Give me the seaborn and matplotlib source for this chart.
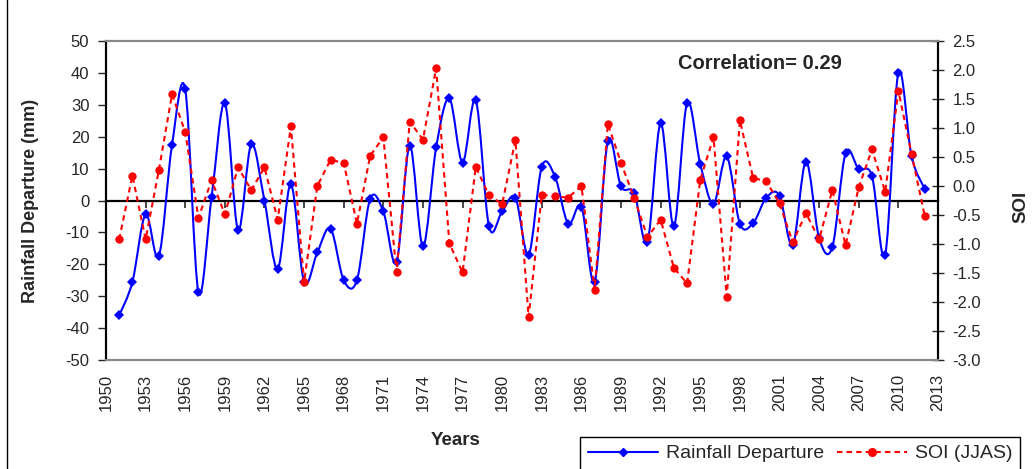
import numpy as np
import matplotlib
matplotlib.use('Agg')
import matplotlib.pyplot as plt
import seaborn as sns
from matplotlib.path import Path
from matplotlib.patches import PathPatch
from matplotlib.lines import Line2D

# data (1951-2012)
years = list(range(1951, 2013))
rainfall = [-36, -25.5, -4.3, -17.5, 17.5, 34.8, -28.8, 1.2, 30.5, -9.2,
            17.6, -0.1, -21.5, 5.1, -25.5, -16.3, -8.8, -25, -25, 0.5,
            -3.4, -19.3, 17.2, -14.4, 16.7, 32, 11.9, 31.5, -8.1, -3.4,
            0.9, -17, 10.6, 7.5, -7.3, -1.9, -25.5, 18.6, 4.4, 2.3,
            -13, 24.2, -8.1, 30.6, 11.4, -1.0, 13.8, -7.3, -7.1, 0.9,
            1.5, -14.1, 12.2, -11.8, -14.6, 14.8, 9.8, 7.7, -17, 40.1, 13.8, 3.6]
soi = [-0.92, 0.18, -0.92, 0.27, 1.58, 0.93, -0.55, 0.10, -0.49, 0.32,
       -0.07, 0.32, -0.58, 1.03, -1.66, 0.0, 0.45, 0.40, -0.65, 0.52,
       0.84, -1.49, 1.11, 0.80, 2.03, -0.99, -1.49, 0.33, -0.16, -0.31,
       0.79, -2.26, -0.15, -0.18, -0.20, 0.0, -1.79, 1.07, 0.40, -0.21,
       -0.88, -0.58, -1.41, -1.68, 0.11, 0.84, -1.91, 1.13, 0.14, 0.08,
       -0.30, -0.97, -0.47, -0.92, -0.07, -1.02, -0.02, 0.63, -0.10, 1.64, 0.55, -0.52]
xticks = list(range(1950, 2014, 3))
left_ticks = list(range(-50, 51, 10))
right_ticks = [-3.0, -2.5, -2.0, -1.5, -1.0, -0.5, 0.0, 0.5, 1.0, 1.5, 2.0, 2.5]
correlation = 0.29


def smooth_path(xs, ys):
    # Excel-like smoothed line: Catmull-Rom as cubic Bezier segments
    pts = np.column_stack([xs, ys]).astype(float)
    ext = np.vstack([pts[0], pts, pts[-1]])
    verts = [pts[0]]
    codes = [Path.MOVETO]
    for i in range(len(pts) - 1):
        p0, p1, p2, p3 = ext[i], ext[i + 1], ext[i + 2], ext[i + 3]
        verts += [p1 + (p2 - p0) / 6, p2 - (p3 - p1) / 6, p2]
        codes += [Path.CURVE4] * 3
    return Path(verts, codes)


sns.set_style('white')
plt.rcParams['font.family'] = ['Liberation Sans', 'DejaVu Sans']

fig = plt.figure(figsize=(10.33, 4.69), dpi=100)
ax = fig.add_axes([106 / 1033, 1 - 360 / 469, 832 / 1033, 319 / 469])

blue = '#0000FF'
red = '#FF0000'
dots = (0, (2.6, 2.0))

ax.add_patch(PathPatch(smooth_path(years, rainfall), fill=False,
                       edgecolor=blue, lw=1.5, zorder=3))
sns.lineplot(x=years, y=rainfall, ax=ax, color=blue, linestyle='none',
             marker='D', markersize=5, markeredgewidth=0, zorder=4)

ax.set_xlim(1950, 2013)
ax.set_ylim(-50, 50)
ax.set_xticks(xticks)
ax.set_xticklabels([str(t) for t in xticks], rotation=90, fontsize=12)
ax.tick_params(axis='x', length=0, pad=10)
ax.set_yticks(left_ticks)
ax.set_yticklabels([str(t) for t in left_ticks], fontsize=12)
ax.tick_params(axis='y', direction='out', length=6, width=1, pad=6, left=True)

# zero line with year ticks
zero = ax.secondary_xaxis(0.5)
zero.set_alignment('bottom')
zero.set_xticks(xticks)
zero.tick_params(direction='out', length=5, width=1.2, labelbottom=False, labeltop=False)
zero.spines['bottom'].set_linewidth(1.6)
zero.spines['bottom'].set_color('black')

ax2 = ax.twinx()
sns.lineplot(x=years, y=soi, ax=ax2, color=red, lw=1.5, linestyle=dots,
             marker='o', markersize=6, markeredgewidth=0)
ax2.set_ylim(-3.0, 2.5)
ax2.set_yticks(right_ticks)
ax2.set_yticklabels([f'{t:.1f}' for t in right_ticks], fontsize=12)
ax2.tick_params(axis='y', direction='inout', length=9, width=1, pad=6, right=True)

for a in (ax, ax2):
    a.spines['top'].set_color('#888888')
    a.spines['bottom'].set_color('#888888')
    a.spines['top'].set_linewidth(1.5)
    a.spines['bottom'].set_linewidth(1.5)
    a.spines['left'].set_color('black')
    a.spines['right'].set_color('black')
    a.spines['left'].set_linewidth(1.5)
    a.spines['right'].set_linewidth(1.5)

ax.set_ylabel('Rainfall Departure (mm)', fontsize=13, fontweight='bold')
ax.yaxis.set_label_coords(-0.08, 0.5)
ax2.set_ylabel('SOI', fontsize=13.5, fontweight='bold')
ax2.yaxis.set_label_coords(1.09, 0.48)
ax.set_xlabel('Years', fontsize=13.5, fontweight='bold')
ax.xaxis.set_label_coords(0.42, -0.225)

ax.text(0.786, 0.928, f'Correlation= {correlation}', transform=ax.transAxes,
        ha='center', va='center', fontsize=14.5, fontweight='bold')

handles = [Line2D([], [], color=blue, lw=1.5, marker='D', markersize=4.5),
           Line2D([], [], color=red, lw=1.5, linestyle=dots, marker='o', markersize=5.5)]
leg = fig.legend(handles, ['Rainfall Departure', 'SOI (JJAS)'], loc='upper left',
                 bbox_to_anchor=(580 / 1033, 1 - 437 / 469), ncol=2, fontsize=14,
                 frameon=True, fancybox=False, edgecolor='black', framealpha=1,
                 handlelength=3.6, handletextpad=0.4, columnspacing=0.7,
                 borderaxespad=0, borderpad=0.4)
leg.get_frame().set_linewidth(1.0)

# outer chart border (left edge visible)
fig.add_artist(Line2D([6.5 / 1033, 6.5 / 1033], [0, 1], transform=fig.transFigure,
                      color='black', lw=1))

fig.savefig('out.png', dpi=100)
